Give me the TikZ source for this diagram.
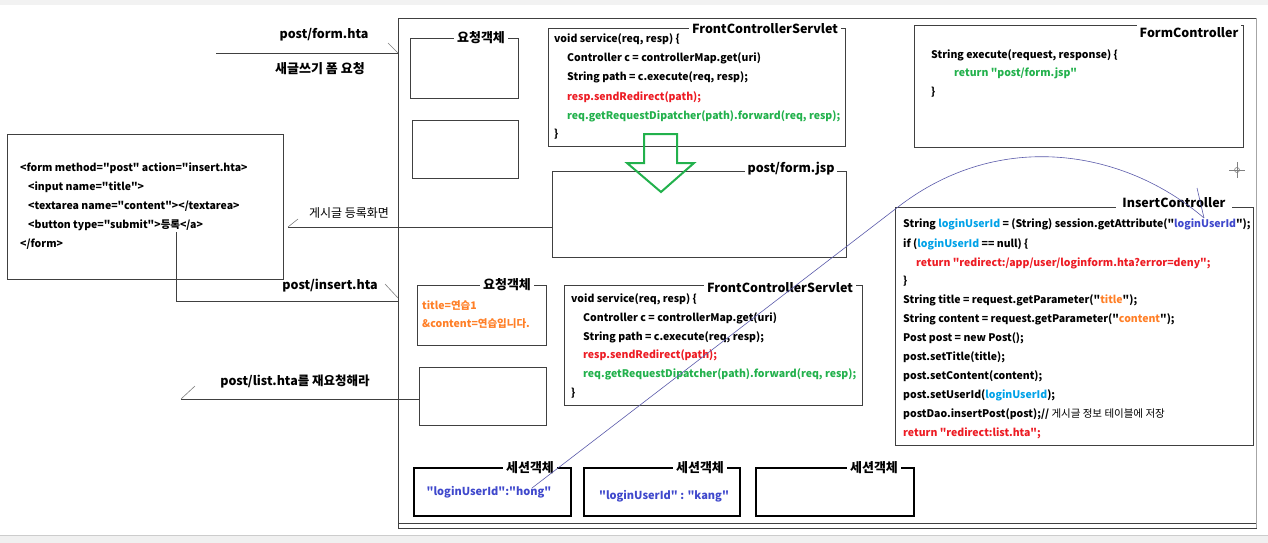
\documentclass[tikz,border=0pt]{standalone}
\usepackage{fontspec}
\setmainfont{Noto Sans CJK KR}[Ligatures=TeXOff]
\usetikzlibrary{calc}
\definecolor{cred}{HTML}{ED1C24}
\definecolor{cgreen}{HTML}{22B14C}
\definecolor{corange}{HTML}{FF7F27}
\definecolor{cblue}{HTML}{00A2E8}
\definecolor{cindigo}{HTML}{3F48CC}
\definecolor{cline}{HTML}{404040}
\definecolor{ccurve}{HTML}{5A5AAA}
\newcommand\codef{\bfseries\fontsize{10.5}{12}\selectfont}
\newcommand\bigf{\bfseries\fontsize{12.5}{14}\selectfont}
\newcommand\korf{\bfseries\fontsize{13}{15}\selectfont}
\begin{document}
\begin{tikzpicture}[x=1pt,y=-1pt,
  box/.style={draw=cline, line width=0.9pt, anchor=north west, inner sep=0pt},
  sbox/.style={draw=black, line width=2.4pt, anchor=north west, inner sep=0pt},
  code/.style={anchor=base west, inner sep=0pt, font=\codef},
  ttl/.style={fill=white, inner xsep=3pt, inner ysep=1pt, font=\bigf},
  kttl/.style={fill=white, inner xsep=3pt, inner ysep=1pt, font=\korf},
  lbl/.style={inner sep=0pt, font=\bigf},
  conn/.style={draw=cline, line width=0.9pt},
  tick/.style={draw=gray, line width=0.6pt},
  curve/.style={draw=ccurve, line width=0.6pt}]
\useasboundingbox (0,0) rectangle (1268,543);
\fill[white] (0,0) rectangle (1268,543);
\fill[black!5] (0,0) rectangle (1268,5);
\fill[black!6] (0,535) rectangle (1268,543);
\draw[black!20, line width=0.6pt] (0,535) -- (1268,535);

% outer container
\node[box, minimum width=858, minimum height=510] (outer) at (398,18) {};
\draw[cline, line width=0.9pt] (398,523) -- (1256,523);
\draw[gray!70, line width=0.9pt] (1256,18) -- (1256,528);

% left form box
\node[box, minimum width=276, minimum height=145] (formbox) at (7,134) {};
\node[code] (f1) at (20,171) {<form method="post" action="insert.hta>};
\node[code] (f2) at (28,190) {<input name="title">};
\node[code] (f3) at (28,209) {<textarea name="content"></textarea>};
\node[code] (f4) at (28,228) {<button type="submit">등록</a>};
\node[code] (f5) at (20,247) {</form>};

% request object boxes
\node[box, minimum width=108, minimum height=60] (req1) at (410,38) {};
\node[kttl] (req1t) at (481,38) {요청객체};
\node[box, minimum width=106, minimum height=58] (req2) at (412,120) {};
\node[box, minimum width=129, minimum height=60] (req3) at (417,285) {};
\node[kttl] (req3t) at (507,285) {요청객체};
\node[code, text=corange] (r1) at (422,309) {title=연습1};
\node[code, text=corange] (r2) at (422,327) {\&content=연습입니다.};
\node[box, minimum width=127, minimum height=58] (req4) at (419,367) {};

% FrontControllerServlet 1
\node[box, minimum width=297, minimum height=118] (fcs1) at (548,28) {};
\node[ttl] (fcs1t) at (765,29) {FrontControllerServlet};
\node[code] (a1) at (554,43) {void service(req, resp) \{};
\node[code] (a2) at (567,62) {Controller c = controllerMap.get(uri)};
\node[code] (a3) at (567,81) {String path = c.execute(req, resp);};
\node[code, text=cred] (a4) at (567,100) {resp.sendRedirect(path);};
\node[code, text=cgreen] (a5) at (567,119) {req.getRequestDipatcher(path).forward(req, resp);};
\node[code] (a6) at (554,137) {\}};

% post/form.jsp box
\node[box, minimum width=294, minimum height=86] (fjsp) at (552,171) {};
\node[ttl] (fjspt) at (791,169) {post/form.jsp};

% green hollow arrow
\draw[cgreen, line width=2pt, line join=miter] (644,134) -- (677,134) -- (677,163) -- (694,163) -- (661,192) -- (627,163) -- (644,163) -- cycle;

% FrontControllerServlet 2
\node[box, minimum width=298, minimum height=120] (fcs2) at (564,285) {};
\node[ttl] (fcs2t) at (780,288) {FrontControllerServlet};
\node[code] (b1) at (571,302) {void service(req, resp) \{};
\node[code] (b2) at (583,321) {Controller c = controllerMap.get(uri)};
\node[code] (b3) at (583,340) {String path = c.execute(req, resp);};
\node[code, text=cred] (b4) at (583,358) {resp.sendRedirect(path);};
\node[code, text=cgreen] (b5) at (583,377) {req.getRequestDipatcher(path).forward(req, resp);};
\node[code] (b6) at (571,396) {\}};

% FormController
\node[box, minimum width=329, minimum height=122] (formc) at (914,25) {};
\node[ttl, inner ysep=4pt] (formct) at (1189,33) {FormController};
\node[code] (c1) at (931,59) {String execute(request, response) \{};
\node[code, text=cgreen] (c2) at (954,77) {return "post/form.jsp"};
\node[code] (c3) at (931,95) {\}};

% InsertController
\node[box, minimum width=358, minimum height=238] (insc) at (895,207) {};
\node[ttl, inner xsep=6pt] (insct) at (1174,203) {InsertController};
\node[code] (i1) at (903,227) {String \textcolor{cblue}{loginUserId} = (String) session.getAttribute("\textcolor{cindigo}{loginUserId}");};
\node[code] (i2) at (903,247) {if (\textcolor{cblue}{loginUserId} == null) \{};
\node[code, text=cred] (i3) at (916,266) {return "redirect:/app/user/loginform.hta?error=deny";};
\node[code] (i4) at (903,284) {\}};
\node[code] (i5) at (903,303) {String title = request.getParameter("\textcolor{corange}{title}");};
\node[code] (i6) at (903,322) {String content = request.getParameter("\textcolor{corange}{content}");};
\node[code] (i7) at (903,341) {Post post = new Post();};
\node[code] (i8) at (903,360) {post.setTitle(title);};
\node[code] (i9) at (903,379) {post.setContent(content);};
\node[code] (i10) at (903,398) {post.setUserId(\textcolor{cblue}{loginUserId});};
\node[code] (i11) at (903,417) {postDao.insertPost(post);// {\mdseries 게시글 정보 테이블에 저장}};
\node[code, text=cred] (i12) at (903,436) {return "redirect:list.hta";};

% session boxes
\node[sbox, minimum width=157, minimum height=48] (s1) at (413,467) {};
\node[kttl] (s1t) at (530,468) {세션객체};
\node[code, anchor=center, text=cindigo, font=\bfseries\fontsize{11}{13}\selectfont] (s1x) at (489,492) {"loginUserId":"hong"};
\node[sbox, minimum width=156, minimum height=48] (s2) at (583,467) {};
\node[kttl] (s2t) at (700,468) {세션객체};
\node[code, anchor=center, text=cindigo, font=\bfseries\fontsize{11}{13}\selectfont] (s2x) at (664,496) {"loginUserId" : "kang"};
\node[sbox, minimum width=158, minimum height=48] (s3) at (755,467) {};
\node[kttl] (s3t) at (874,468) {세션객체};

% left labels and connectors
\node[lbl] (l1) at (324,35) {post/form.hta};
\node[lbl, font=\korf] (l2) at (320,69) {새글쓰기 폼 요청};
\coordinate (p1) at (216,53);
\draw[conn] (p1) -- (p1 -| outer.west);
\draw[tick] (388,43) -- (398,53);

\node[inner sep=0pt, font=\fontsize{12}{14}\selectfont] (l3) at (349,213) {게시글 등록화면};
\coordinate (p2) at (288,227);
\draw[conn] (p2) -- (p2 -| fjsp.west);
\draw[tick] (p2) -- ++(10,-8);

\node[lbl] (l4) at (330,286) {post/insert.hta};
\coordinate (p3) at (176,232);
\coordinate (p3e) at (398,301);
\draw[conn] (p3) |- (p3e);
\draw[tick] (385,284) -- (398,298);

\node[lbl] (l5) at (295,382) {post/list.hta를 재요청해라};
\coordinate (p4) at (181,399);
\draw[conn] (p4) -- (p4 -| req4.west);
\draw[tick] (p4) -- ++(14,-13);

% session -> InsertController curve
\coordinate (hong) at (532,488);
\coordinate (uid) at (1204,218);
\draw[curve] (hong) -- (898,207) .. controls (1000,128) and (1125,150) .. (uid);
\draw[curve] (uid) -- ++(-7,-30);

% crosshair cursor
\draw[gray, line width=0.6pt] (1229,170) -- (1245,170) (1237,162) -- (1237,178);
\draw[gray, line width=0.6pt] (1237,170) circle (2.5);
\end{tikzpicture}
\end{document}
